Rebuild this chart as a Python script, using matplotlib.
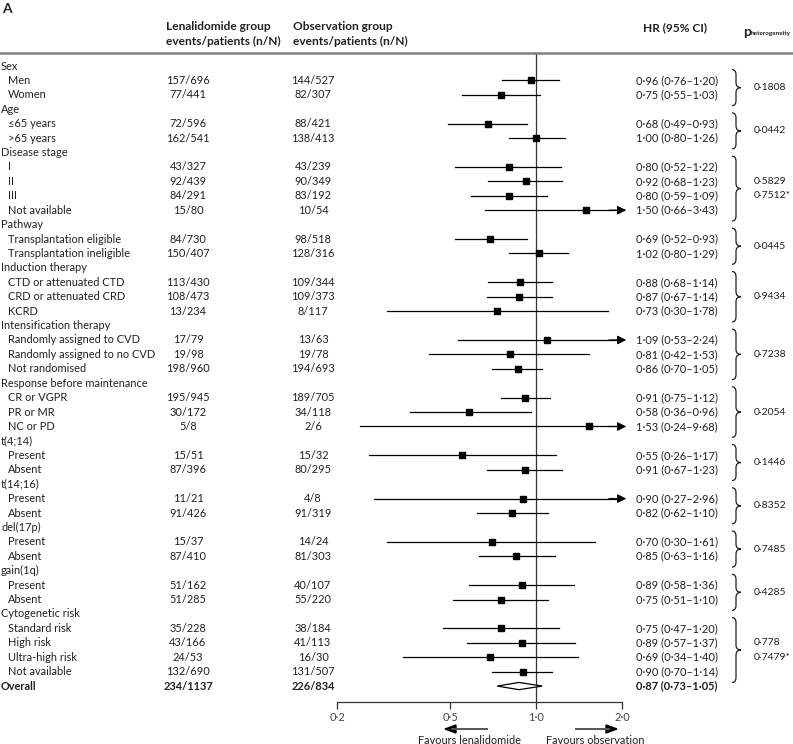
import matplotlib
matplotlib.use("Agg")
import matplotlib.pyplot as plt
from matplotlib.path import Path
from matplotlib.patches import PathPatch, Polygon
from matplotlib.transforms import blended_transform_factory
from matplotlib.ticker import FixedLocator, FixedFormatter, NullLocator

plt.rcParams['font.family'] = ['Lato', 'DejaVu Sans']

# ---- data ----
group_names = ["Sex", "Age", "Disease stage", "Pathway", "Induction therapy",
               "Intensification therapy", "Response before maintenance",
               "t(4;14)", "t(14;16)", "del(17p)", "gain(1q)", "Cytogenetic risk"]
sub_labels = [
    ["Men", "Women"],
    ["≤65 years", ">65 years"],
    ["I", "II", "III", "Not available"],
    ["Transplantation eligible", "Transplantation ineligible"],
    ["CTD or attenuated CTD", "CRD or attenuated CRD", "KCRD"],
    ["Randomly assigned to CVD", "Randomly assigned to no CVD", "Not randomised"],
    ["CR or VGPR", "PR or MR", "NC or PD"],
    ["Present", "Absent"],
    ["Present", "Absent"],
    ["Present", "Absent"],
    ["Present", "Absent"],
    ["Standard risk", "High risk", "Ultra-high risk", "Not available"],
]
len_events = [
    ["157/696", "77/441"],
    ["72/596", "162/541"],
    ["43/327", "92/439", "84/291", "15/80"],
    ["84/730", "150/407"],
    ["113/430", "108/473", "13/234"],
    ["17/79", "19/98", "198/960"],
    ["195/945", "30/172", "5/8"],
    ["15/51", "87/396"],
    ["11/21", "91/426"],
    ["15/37", "87/410"],
    ["51/162", "51/285"],
    ["35/228", "43/166", "24/53", "132/690"],
]
obs_events = [
    ["144/527", "82/307"],
    ["88/421", "138/413"],
    ["43/239", "90/349", "83/192", "10/54"],
    ["98/518", "128/316"],
    ["109/344", "109/373", "8/117"],
    ["13/63", "19/78", "194/693"],
    ["189/705", "34/118", "2/6"],
    ["15/32", "80/295"],
    ["4/8", "91/319"],
    ["14/24", "81/303"],
    ["40/107", "55/220"],
    ["38/184", "41/113", "16/30", "131/507"],
]
hr = [
    [0.96, 0.75], [0.68, 1.00], [0.80, 0.92, 0.80, 1.50], [0.69, 1.02],
    [0.88, 0.87, 0.73], [1.09, 0.81, 0.86], [0.91, 0.58, 1.53],
    [0.55, 0.91], [0.90, 0.82], [0.70, 0.85], [0.89, 0.75],
    [0.75, 0.89, 0.69, 0.90],
]
ci_low = [
    [0.76, 0.55], [0.49, 0.80], [0.52, 0.68, 0.59, 0.66], [0.52, 0.80],
    [0.68, 0.67, 0.30], [0.53, 0.42, 0.70], [0.75, 0.36, 0.24],
    [0.26, 0.67], [0.27, 0.62], [0.30, 0.63], [0.58, 0.51],
    [0.47, 0.57, 0.34, 0.70],
]
ci_high = [
    [1.20, 1.03], [0.93, 1.26], [1.22, 1.23, 1.09, 3.43], [0.93, 1.29],
    [1.14, 1.14, 1.78], [2.24, 1.53, 1.05], [1.12, 0.96, 9.68],
    [1.17, 1.23], [2.96, 1.10], [1.61, 1.16], [1.36, 1.10],
    [1.20, 1.37, 1.40, 1.14],
]
p_het = [["0·1808"], ["0·0442"], ["0·5829", "0·7512*"], ["0·0445"], ["0·9434"],
         ["0·7238"], ["0·2054"], ["0·1446"], ["0·8352"], ["0·7485"], ["0·4285"],
         ["0·778", "0·7479*"]]
overall = dict(label="Overall", len="234/1137", obs="226/834", hr=0.87, lo=0.73, hi=1.05)

x_ticks = [0.2, 0.5, 1.0, 2.0]
x_tick_labels = ["0·2", "0·5", "1·0", "2·0"]


def dot(v):
    return f"{v:.2f}".replace(".", "·")


W, H = 793, 744
TXT = "#231f20"
FS = 7.9
FSH = 8.6
FSP = 7.5

fig = plt.figure(figsize=(W / 100, H / 100), dpi=100)

# forest axes: 0.2 -> px 337, 2.0 -> px 622 ; rows: row i at px 66 + 14.42*i
row_px0, row_step = 66.0, 14.42
top_px, bot_px = 54.0, 702.0
ax = fig.add_axes([337 / W, 1 - bot_px / H, 285 / W, (bot_px - top_px) / H])
ax.set_xscale("log")
ax.set_xlim(0.2, 2.0)
ax.set_ylim((bot_px - row_px0) / row_step, (top_px - row_px0) / row_step)
for s in ["top", "left", "right"]:
    ax.spines[s].set_visible(False)
ax.spines["bottom"].set_linewidth(0.9)
ax.spines["bottom"].set_color("#333333")
ax.yaxis.set_visible(False)
ax.xaxis.set_major_locator(FixedLocator(x_ticks))
ax.xaxis.set_major_formatter(FixedFormatter(x_tick_labels))
ax.xaxis.set_minor_locator(NullLocator())
ax.tick_params(axis="x", direction="out", length=5, width=0.9, color="#333333",
               labelsize=FS, labelcolor="#444444", pad=2)
ax.axvline(1.0, color="#333333", lw=0.9, zorder=1)

tr = blended_transform_factory(fig.transFigure, ax.transData)


def fx(px):
    return px / W


def brace(y0, y1, x0=732, x1=736, x2=741, r=0.35):
    ym = (y0 + y1) / 2
    a, b, c = fx(x0), fx(x1), fx(x2)
    verts = [(a, y0), (b, y0), (b, y0 + r),
             (b, ym - r), (b, ym), (c, ym),
             (b, ym), (b, ym + r),
             (b, y1 - r), (b, y1), (a, y1)]
    codes = [Path.MOVETO, Path.CURVE3, Path.CURVE3,
             Path.LINETO, Path.CURVE3, Path.CURVE3,
             Path.CURVE3, Path.CURVE3,
             Path.LINETO, Path.CURVE3, Path.CURVE3]
    fig.add_artist(PathPatch(Path(verts, codes), transform=tr, fill=False,
                             lw=0.9, edgecolor=TXT))


row = 0
for g, name in enumerate(group_names):
    ax.text(fx(1), row, name, transform=tr, ha="left", va="center", fontsize=FS, color=TXT)
    row += 1
    first = row
    for k, lab in enumerate(sub_labels[g]):
        ax.text(fx(8), row, lab, transform=tr, ha="left", va="center", fontsize=FS, color=TXT)
        ax.text(fx(188), row, len_events[g][k], transform=tr, ha="center", va="center",
                fontsize=FS, color=TXT)
        ax.text(fx(313), row, obs_events[g][k], transform=tr, ha="center", va="center",
                fontsize=FS, color=TXT)
        h, lo, hi = hr[g][k], ci_low[g][k], ci_high[g][k]
        ax.text(fx(636), row, f"{dot(h)} ({dot(lo)}–{dot(hi)})", transform=tr,
                ha="left", va="center", fontsize=FS, color=TXT)
        if hi > 2.0:
            ax.plot([lo, 1.9], [row, row], color="black", lw=0.9, clip_on=False, zorder=2)
            ax.annotate("", xy=(2.07, row), xytext=(1.8, row),
                        arrowprops=dict(arrowstyle="-|>", mutation_scale=13, lw=0.9,
                                        color="black", shrinkA=0, shrinkB=0),
                        annotation_clip=False)
        else:
            ax.plot([lo, hi], [row, row], color="black", lw=0.9, zorder=2)
        ax.plot(h, row, "s", ms=4.5, color="black", zorder=3)
        row += 1
    last = row - 1
    brace(first - 0.75, last + 0.75)
    if len(p_het[g]) == 1:
        yp = (first + last) / 2
        ax.text(fx(754), yp, p_het[g][0], transform=tr, ha="left", va="center",
                fontsize=FSP, color=TXT)
    else:
        for j, p in enumerate(p_het[g]):
            ax.text(fx(754), first + 1 + j, p, transform=tr, ha="left", va="center",
                    fontsize=FSP, color=TXT)

# overall row
ax.text(fx(1), row, overall["label"], transform=tr, ha="left", va="center",
        fontsize=FS, color=TXT, fontweight="bold")
ax.text(fx(188), row, overall["len"], transform=tr, ha="center", va="center",
        fontsize=FS, color=TXT, fontweight="bold")
ax.text(fx(313), row, overall["obs"], transform=tr, ha="center", va="center",
        fontsize=FS, color=TXT, fontweight="bold")
ax.text(fx(636), row,
        f"{dot(overall['hr'])} ({dot(overall['lo'])}–{dot(overall['hi'])})",
        transform=tr, ha="left", va="center", fontsize=FS, color=TXT, fontweight="bold")
dh = 0.25
ax.add_patch(Polygon([(overall["lo"], row), (overall["hr"], row - dh),
                      (overall["hi"], row), (overall["hr"], row + dh)],
                     closed=True, facecolor="white", edgecolor="black", lw=0.9, zorder=3))

# headers
fig.text(fx(2), 1 - 9 / H, "A", ha="left", va="center", fontsize=10, fontweight="bold", color=TXT)
fig.text(fx(166), 1 - 26 / H, "Lenalidomide group", ha="left", va="center",
         fontsize=FSH, fontweight="bold", color=TXT)
fig.text(fx(166), 1 - 41 / H, "events/patients (n/N)", ha="left", va="center",
         fontsize=FSH, fontweight="bold", color=TXT)
fig.text(fx(293), 1 - 26 / H, "Observation group", ha="left", va="center",
         fontsize=FSH, fontweight="bold", color=TXT)
fig.text(fx(293), 1 - 41 / H, "events/patients (n/N)", ha="left", va="center",
         fontsize=FSH, fontweight="bold", color=TXT)
fig.text(fx(643), 1 - 28 / H, "HR (95% CI)", ha="left", va="center",
         fontsize=FSH, fontweight="bold", color=TXT)
fig.text(fx(743), 1 - 32 / H, "p", ha="left", va="center",
         fontsize=FSH + 1.5, fontweight="bold", color=TXT)
fig.text(fx(751), 1 - 34 / H, "heterogeneity", ha="left", va="center",
         fontsize=4.6, fontweight="bold", color=TXT)

# header rule
fig.add_artist(plt.Line2D([0, 1], [1 - 53 / H, 1 - 53 / H], transform=fig.transFigure,
                          color="#7f7f7f", lw=1.8))

# favours arrows
ya = 1 - 729 / H
fig.add_artist(plt.Line2D([fx(452), fx(487)], [ya, ya], color="#555555", lw=1.4))
fig.patches.append(Polygon([(fx(445), ya), (fx(456), ya + 4 / H), (fx(456), ya - 4 / H)],
                           closed=True, transform=fig.transFigure, color="black"))
fig.add_artist(plt.Line2D([fx(576), fx(609)], [ya, ya], color="#555555", lw=1.4))
fig.patches.append(Polygon([(fx(617), ya), (fx(606), ya + 4 / H), (fx(606), ya - 4 / H)],
                           closed=True, transform=fig.transFigure, color="black"))
fig.text(fx(469), 1 - 740 / H, "Favours lenalidomide", ha="center", va="center",
         fontsize=FS, color=TXT)
fig.text(fx(595), 1 - 740 / H, "Favours observation", ha="center", va="center",
         fontsize=FS, color=TXT)

fig.savefig("out.png", dpi=100)
